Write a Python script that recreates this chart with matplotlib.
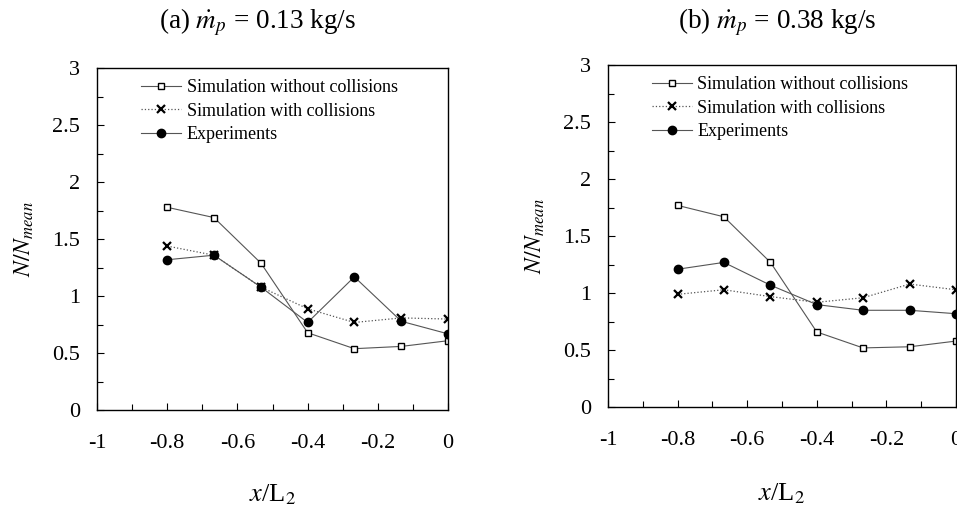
import numpy as np
import matplotlib.pyplot as plt
from matplotlib.ticker import MultipleLocator, FuncFormatter

plt.rcParams['font.family'] = 'Liberation Serif'
plt.rcParams['mathtext.fontset'] = 'stix'
plt.rcParams['axes.unicode_minus'] = False

# x positions along the pipe, x/L2
x_pos = [-0.8, -0.667, -0.533, -0.4, -0.267, -0.133, 0.0]

# (a) m_p = 0.13 kg/s
a_no_coll = [1.78, 1.69, 1.29, 0.68, 0.54, 0.56, 0.61]
a_coll = [1.44, 1.36, 1.08, 0.89, 0.77, 0.81, 0.80]
a_exp = [1.32, 1.36, 1.08, 0.77, 1.17, 0.78, 0.67]

# (b) m_p = 0.38 kg/s
b_no_coll = [1.77, 1.67, 1.27, 0.66, 0.52, 0.53, 0.58]
b_coll = [0.99, 1.03, 0.97, 0.92, 0.96, 1.08, 1.03]
b_exp = [1.21, 1.27, 1.07, 0.90, 0.85, 0.85, 0.82]

titles = [r'(a) $\dot{m}_p$ = 0.13 kg/s', r'(b) $\dot{m}_p$ = 0.38 kg/s']
labels = ['Simulation without collisions', 'Simulation with collisions', 'Experiments']

fig = plt.figure(figsize=(9.57, 5.09), dpi=100)
ax1 = fig.add_axes([0.1014, 0.194, 0.3668, 0.672])
ax2 = fig.add_axes([0.6353, 0.200, 0.3636, 0.672])

line_col = '#555555'


def fmt(v, pos):
    v = round(v, 6)
    if v == 0:
        v = 0.0
    return f'{v:g}'


for ax, d1, d2, d3, lp in [(ax1, a_no_coll, a_coll, a_exp, 21),
                           (ax2, b_no_coll, b_coll, b_exp, 23)]:
    ax.plot(x_pos, d1, '-', color=line_col, lw=0.8, marker='s', ms=5,
            mfc='white', mec='black', mew=1.0, label=labels[0])
    ax.plot(x_pos, d2, ':', color=line_col, lw=0.9, marker='x', ms=6,
            mec='black', mew=1.6, label=labels[1])
    ax.plot(x_pos, d3, '-', color=line_col, lw=0.8, marker='o', ms=6,
            mfc='black', mec='black', label=labels[2])
    ax.set_xlim(-1, 0)
    ax.set_ylim(0, 3)
    ax.xaxis.set_major_locator(MultipleLocator(0.2))
    ax.xaxis.set_minor_locator(MultipleLocator(0.1))
    ax.yaxis.set_major_locator(MultipleLocator(0.5))
    ax.yaxis.set_minor_locator(MultipleLocator(0.25))
    ax.xaxis.set_major_formatter(FuncFormatter(fmt))
    ax.yaxis.set_major_formatter(FuncFormatter(fmt))
    ax.tick_params(which='both', direction='in', top=False, right=False,
                   labelsize=16)
    ax.tick_params(which='major', length=5, width=0.8)
    ax.tick_params(which='minor', length=4, width=0.8)
    ax.tick_params(axis='x', pad=17)
    ax.tick_params(axis='y', pad=12)
    for s in ax.spines.values():
        s.set_linewidth(1.0)
    ax.set_xlabel(r'$x$/L$_2$', fontsize=19, labelpad=lp)
    ax.set_ylabel(r'$N/N_{mean}$', fontsize=17, labelpad=12)
    ax.legend(loc='upper left', bbox_to_anchor=(0.08, 1.015), frameon=False,
              fontsize=13, handlelength=2.2, handletextpad=0.3,
              labelspacing=0.35)

fig.text(258 / 957, 1 - 22 / 509, titles[0], ha='center', va='center', fontsize=19.5)
fig.text(777 / 957, 1 - 22 / 509, titles[1], ha='center', va='center', fontsize=19.5)

fig.savefig('out.png', dpi=100)
